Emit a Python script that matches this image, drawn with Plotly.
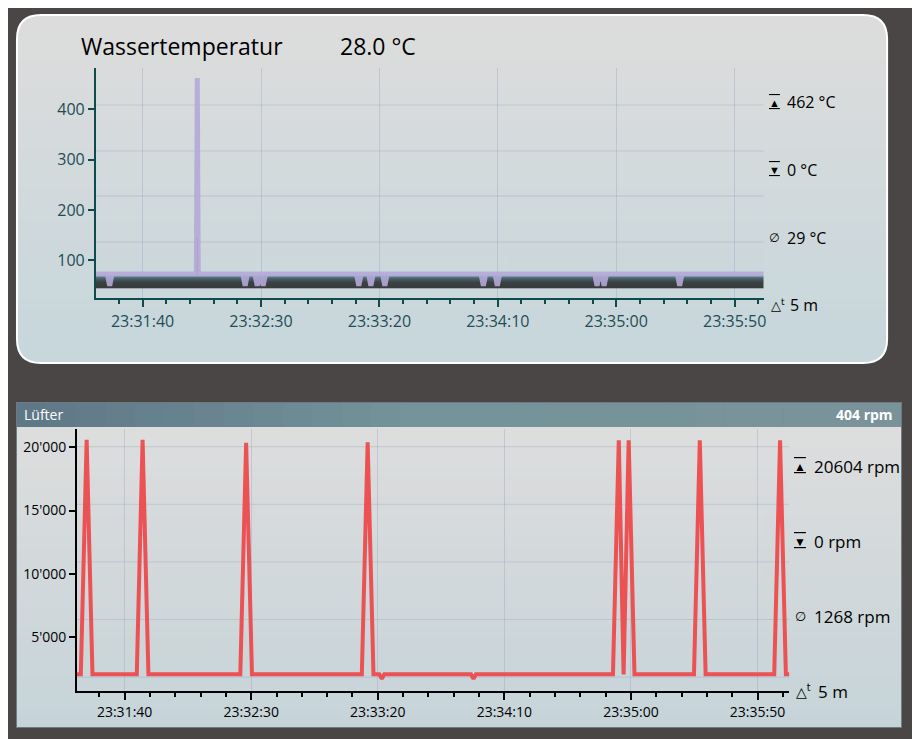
################################################################################
# Libraries
################################################################################
import plotly.graph_objects as go
################################################################################
# Data
################################################################################
day = "2023-03-10 "

# Wassertemperatur, lavender line
tempTimes = ["23:31:20.2", "23:31:25.1", "23:31:26.1", "23:31:27.1",
             "23:32:02.7", "23:32:03.1", "23:32:03.5",
             "23:32:22.3", "23:32:23.3", "23:32:24.3",
             "23:32:27.4", "23:32:28.4", "23:32:29.4",
             "23:32:29.9", "23:32:30.9", "23:32:31.9",
             "23:33:10.3", "23:33:11.3", "23:33:12.3",
             "23:33:15.4", "23:33:16.4", "23:33:17.4",
             "23:33:21.3", "23:33:22.3", "23:33:23.3",
             "23:34:02.9", "23:34:03.9", "23:34:04.9",
             "23:34:08.8", "23:34:09.8", "23:34:10.8",
             "23:34:50.9", "23:34:51.9", "23:34:52.9",
             "23:34:53.9", "23:34:54.9", "23:34:55.9",
             "23:35:25.8", "23:35:26.8", "23:35:27.8",
             "23:36:02.4"]
tempValues = [73, 73, 50, 73,
              73, 462, 73,
              73, 50, 73,
              73, 50, 73,
              73, 50, 73,
              73, 50, 73,
              73, 50, 73,
              73, 50, 73,
              73, 50, 73,
              73, 50, 73,
              73, 50, 73,
              73, 50, 73,
              73, 50, 73,
              73]

# dark band under the temperature line
bandTimes = ["23:31:20.2", "23:36:02.4"]
bandLow = [45, 45]
bandHigh = [70, 70]

# thin red line showing through the spike
redTimes = ["23:31:20.2", "23:32:02.9", "23:32:03.1", "23:32:03.3", "23:36:02.4"]
redValues = [60, 60, 145, 60, 60]

# Lüfter
fanTimes = ["23:31:21.1", "23:31:22.7", "23:31:25.0", "23:31:27.3",
            "23:31:44.8", "23:31:47.1", "23:31:49.4",
            "23:32:25.7", "23:32:28.0", "23:32:30.3",
            "23:33:13.7", "23:33:16.0", "23:33:18.3",
            "23:33:20.6", "23:33:21.6", "23:33:22.6",
            "23:33:56.8", "23:33:57.8", "23:33:58.8",
            "23:34:52.9", "23:34:55.2", "23:34:57.1", "23:34:59.1", "23:35:01.4",
            "23:35:24.9", "23:35:27.2", "23:35:29.5",
            "23:35:56.6", "23:35:58.9", "23:36:01.2", "23:36:02.6"]
fanValues = [2040, 2040, 20604, 2040,
             2040, 20604, 2040,
             2040, 20350, 2040,
             2040, 20400, 2040,
             2040, 1690, 2040,
             2040, 1690, 2040,
             2040, 20550, 2040, 20550, 2040,
             2040, 20550, 2040,
             2040, 20550, 2040, 2040]

tempTicks = [100, 200, 300, 400]
fanTicks = [5000, 10000, 15000, 20000]
fanTickText = ["5'000", "10'000", "15'000", "20'000"]

tempStats = ["462 °C", "0 °C", "29 °C", "5 m"]
fanStats = ["20604 rpm", "0 rpm", "1268 rpm", "5 m"]
################################################################################
# Config
################################################################################
# the page body keeps an 8 px margin, so the figure is 8 px smaller and shifted
OFF = 8
W, H = 920 - OFF, 739 - OFF
FONT = "Open Sans"
TEAL = "#0d4b4d"

def px(x):
	return (x - OFF) / W

def py(y):
	return 1 - (y - OFF) / H

def mix(c1, c2, t):
	a = [int(c1[i:i + 2], 16) for i in (1, 3, 5)]
	b = [int(c2[i:i + 2], 16) for i in (1, 3, 5)]
	return "#%02x%02x%02x" % tuple(round(a[i] + (b[i] - a[i]) * t) for i in range(3))

def P(x, y):
	return "%.5f,%.5f" % (px(x), py(y))

shapes = []
# top rounded panel with a vertical gradient made of bands
x0, x1, y0, y1, r = 17, 890, 15, 363, 24
def bottomPart(yt):
	s = "M" + P(x0, yt) + " L" + P(x1, yt)
	s += " L" + P(x1, y1 - r) + " Q" + P(x1, y1) + " " + P(x1 - r, y1)
	s += " L" + P(x0 + r, y1) + " Q" + P(x0, y1) + " " + P(x0, y1 - r) + " Z"
	return s
full = ("M" + P(x0 + r, y0) + " L" + P(x1 - r, y0) + " Q" + P(x1, y0) + " " + P(x1, y0 + r) +
        " L" + P(x1, y1 - r) + " Q" + P(x1, y1) + " " + P(x1 - r, y1) +
        " L" + P(x0 + r, y1) + " Q" + P(x0, y1) + " " + P(x0, y1 - r) +
        " L" + P(x0, y0 + r) + " Q" + P(x0, y0) + " " + P(x0 + r, y0) + " Z")
shapes.append(dict(type="path", path=full, xref="paper", yref="paper",
                   fillcolor="#dcdcdc", line=dict(width=0), layer="below"))
n = 30
for k in range(n):
	yt = y0 + r + (y1 - 2 * r - y0) * k / n
	shapes.append(dict(type="path", path=bottomPart(yt), xref="paper", yref="paper",
	                   fillcolor=mix("#dcdcdc", "#c8d7dc", (k + 1) / n), line=dict(width=0), layer="below"))
shapes.append(dict(type="path", path=full, xref="paper", yref="paper",
                   line=dict(color="#ffffff", width=2), layer="below"))

# bottom panel: header with horizontal gradient, body with vertical gradient
bx0, bx1, by0, byh, by1 = 17, 904, 403, 427, 727
shapes.append(dict(type="rect", xref="paper", yref="paper", x0=px(bx0 - 1), x1=px(bx1 + 1),
                   y0=py(by1 + 1), y1=py(by0 - 1), fillcolor="#6e7a80", line=dict(width=0), layer="below"))
for k in range(n):
	xa = bx0 + (bx1 - bx0) * k / n
	xb = bx0 + (bx1 - bx0) * (k + 1) / n + 0.5
	t = k / (n - 1)
	c = mix("#5f7888", "#74939a", t / 0.45) if t < 0.45 else mix("#74939a", "#7a939a", (t - 0.45) / 0.55)
	shapes.append(dict(type="rect", xref="paper", yref="paper", x0=px(xa), x1=px(min(xb, bx1)),
	                   y0=py(byh), y1=py(by0), fillcolor=c, line=dict(width=0), layer="below"))
for k in range(n):
	ya = byh + (by1 - byh) * k / n
	yb = byh + (by1 - byh) * (k + 1) / n + 0.5
	shapes.append(dict(type="rect", xref="paper", yref="paper", x0=px(bx0), x1=px(bx1),
	                   y0=py(min(yb, by1)), y1=py(ya), fillcolor=mix("#dddddd", "#c6d4d9", k / (n - 1)),
	                   line=dict(width=0), layer="below"))

# horizontal grid lines (evenly spread, not on the ticks)
for yy in [105, 151, 196, 242, 288]:
	shapes.append(dict(type="line", xref="x domain", yref="paper", x0=0, x1=1, y0=py(yy), y1=py(yy),
	                   line=dict(color="rgba(150,158,190,0.35)", width=1), layer="below"))
for yy in [446.7, 504.3, 561.9, 619.5, 677.1]:
	shapes.append(dict(type="line", xref="x2 domain", yref="paper", x0=0, x1=1, y0=py(yy), y1=py(yy),
	                   line=dict(color="rgba(150,158,190,0.35)", width=1), layer="below"))
################################################################################
# Traces
################################################################################
def T(lst):
	return [day + t for t in lst]

fig = go.Figure()
fig.add_trace(go.Scatter(x=T(redTimes), y=redValues, mode="lines",
                         line=dict(color="#e8505a", width=1), hoverinfo="skip"))
fig.add_trace(go.Scatter(x=T(bandTimes), y=bandLow, mode="lines",
                         line=dict(width=0, color="#3a3c3e"), hoverinfo="skip"))
fig.add_trace(go.Scatter(x=T(bandTimes), y=bandHigh, mode="lines", fill="tonexty",
                         line=dict(width=0, color="#3a3c3e"),
                         fillgradient=dict(type="vertical", start=45, stop=70,
                                           colorscale=[[0, "#393b3d"], [0.45, "#3c4144"],
                                                       [0.75, "#48636a"], [1, "#6b9aa1"]]),
                         hoverinfo="skip"))
fig.add_trace(go.Scatter(x=T(tempTimes), y=tempValues, mode="lines", opacity=0.9,
                         line=dict(color="#b4a9d8", width=5), name="Wassertemperatur"))
fig.add_trace(go.Scatter(x=T(fanTimes), y=fanValues, mode="lines", xaxis="x2", yaxis="y2",
                         line=dict(color="#ee4a4c", width=4), opacity=0.95, name="Lüfter"))
################################################################################
# Annotations
################################################################################
ann = []
def text(x, y, s, size, color="#000000", xanchor="left", family=FONT, **kw):
	ann.append(dict(x=px(x), y=py(y), xref="paper", yref="paper", text=s, showarrow=False,
	                xanchor=xanchor, yanchor="middle", font=dict(family=family, size=size, color=color, **kw)))

text(79, 46, "Wassertemperatur", 23)
text(339, 46, "28.0 °C", 23)
text(22, 415, "Lüfter", 14, "#ffffff")
text(898, 415, "<b>404 rpm</b>", 14, "#ffffff", xanchor="right")

# max / min / mean / span labels beside each chart
for i, yy in enumerate([102, 170, 238, 305]):
	if i == 0:
		text(777, yy, "▲", 11, xanchor="center", lineposition="over+under")
	elif i == 1:
		text(777, yy, "▼", 11, xanchor="center", lineposition="over+under")
	elif i == 2:
		text(777, yy, "∅", 12, xanchor="center", family="DejaVu Sans")
	else:
		text(772, yy, "△<sup>t</sup>", 13, xanchor="left", family="DejaVu Sans")
	text(791 if i == 3 else 788, yy, tempStats[i], 16)
for i, yy in enumerate([466, 541, 616, 691]):
	if i == 0:
		text(803, yy, "▲", 12, xanchor="center", lineposition="over+under")
	elif i == 1:
		text(803, yy, "▼", 12, xanchor="center", lineposition="over+under")
	elif i == 2:
		text(803, yy, "∅", 13, xanchor="center", family="DejaVu Sans")
	else:
		text(797, yy, "△<sup>t</sup>", 14, xanchor="left", family="DejaVu Sans")
	text(819 if i == 3 else 815, yy, fanStats[i], 17)
################################################################################
# Layout
################################################################################
xcommon = dict(type="date", tickformat="%H:%M:%S", tick0=day + "23:31:40", dtick=50000,
               showgrid=True, gridcolor="rgba(150,158,190,0.35)", gridwidth=1,
               ticks="outside", ticklen=7, tickwidth=2, showline=True, linewidth=2,
               zeroline=False)
fig.update_layout(
	width=W, height=H, margin=dict(l=0, r=0, t=0, b=0),
	paper_bgcolor="#4a4645", plot_bgcolor="rgba(0,0,0,0)",
	showlegend=False, shapes=shapes, annotations=ann,
	font=dict(family=FONT),
	xaxis=dict(xcommon, domain=[px(96), px(766)], anchor="y",
	           range=[day + "23:31:20.2", day + "23:36:02.2"],
	           linecolor=TEAL, tickcolor=TEAL, ticklabelstandoff=1,
	           minor=dict(dtick=10000, ticklen=4, tickcolor=TEAL, tickwidth=2, showgrid=False, ticks="outside"),
	           tickfont=dict(size=16, color="#1d4e55")),
	yaxis=dict(domain=[py(298), py(68)], anchor="x", range=[25.5, 481.7],
	           tickvals=tempTicks, ticks="outside", ticklen=6, tickwidth=2, tickcolor=TEAL,
	           showline=True, linecolor=TEAL, linewidth=1.5, showgrid=False, zeroline=False,
	           tickfont=dict(size=16, color="#1d4e55")),
	xaxis2=dict(xcommon, domain=[px(77), px(792)], anchor="y2",
	            range=[day + "23:31:21.1", day + "23:36:02.6"],
	            linecolor="#000000", tickcolor="#000000", ticklabelstandoff=0,
	            minor=dict(dtick=10000, ticklen=4, tickcolor="#000000", tickwidth=2, showgrid=False, ticks="outside"),
	            tickfont=dict(size=14, color="#000000")),
	yaxis2=dict(domain=[py(691), py(429)], anchor="x2", range=[723, 21450],
	            tickvals=fanTicks, ticktext=fanTickText, ticks="outside", ticklen=6, tickwidth=2,
	            tickcolor="#000000", showline=True, linecolor="#000000", linewidth=1.5,
	            showgrid=False, zeroline=False, tickfont=dict(size=14, color="#000000")),
)
fig.write_html("out.html")
